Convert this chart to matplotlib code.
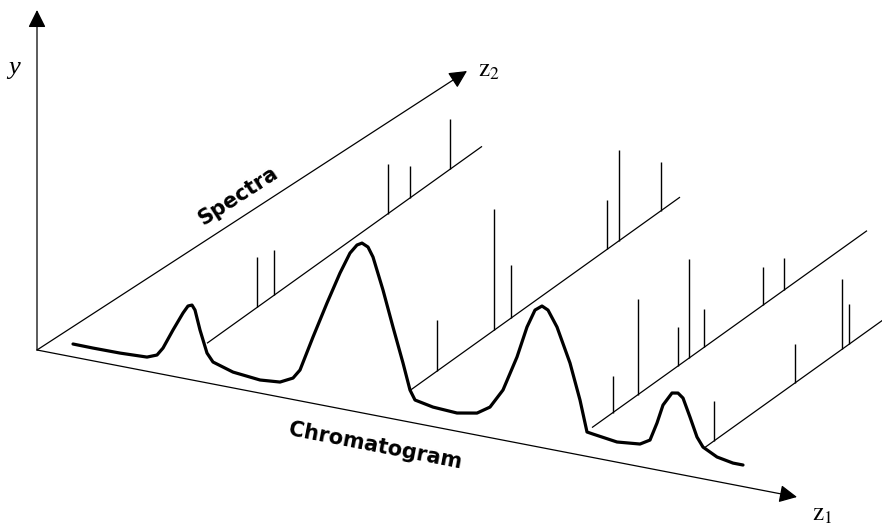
import numpy as np
import matplotlib
matplotlib.use("Agg")
from matplotlib import pyplot as plt

# oblique sketch: z1 runs right and a bit down, z2 runs up-right, y is straight up
ORIGIN = (37, 350)
S1 = 0.193      # screen drop per unit of z1
S2 = 0.716      # screen rise per unit of z2
CHROM_Z2 = 16   # the chromatogram sits a little behind the z1 axis

# chromatogram trace: position along z1 and intensity
chrom_z1 = [20, 40, 67, 94, 104, 110, 120, 130, 135, 139, 142, 147, 154, 160, 180,
            207, 227, 240, 247, 260, 274, 287, 297, 304, 309, 315, 320, 330, 340,
            350, 357, 362, 380, 404, 424, 437, 450, 464, 474, 482, 489, 495, 504,
            517, 527, 534, 540, 564, 587, 597, 604, 610, 619, 625, 630, 637, 644,
            650, 664, 680, 690]
chrom_y = [-1.6, -1.8, -1.6, -0.4, 3.6, 11.7, 31.7, 50.6, 58.6, 60.3, 55.9, 36.9, 15.2,
           7.4, 1.2, -1.5, 0.3, 6.8, 16.2, 51.7, 88.4, 120.9, 142.8, 152.2, 155.1,
           152.3, 143.3, 112.2, 77.1, 43.1, 17.4, 8.4, 4.8, 3.5, 7.3, 15.8, 35.4, 71.1,
           103.0, 121.5, 126.9, 124.0, 108.8, 75.3, 40.2, 9.6, 8.7, 5.4, 7.8, 13.7,
           32.1, 51.2, 65.0, 66.1, 62.1, 44.4, 25.8, 16.9, 9.7, 6.7, 6.7]

# spectra taken at four retention positions
spec_z1 = [154, 357, 539, 652]
spec_lift = [25, 17, 15, 17]
spec_len = [275, 270, 275, 275]
spec_pos = [
    [50, 67, 181, 203, 243],
    [27, 84, 101, 197, 209, 251],
    [21, 46, 86, 97, 112, 171, 192],
    [9, 90, 137, 144],
]
spec_height = [
    [50, 45, 50, 32, 50],
    [51, 121, 53, 49, 91, 49],
    [37, 96, 39, 99, 38, 38, 32],
    [40, 39, 70, 40],
]

# axis arrow ends on the drawing plane
y_tip = (37, 10)
z1_tip = (797, 497)
z2_tip = (467, 71)


def proj(z1, z2, y):
    z1 = np.asarray(z1, float)
    z2 = np.asarray(z2, float)
    y = np.asarray(y, float)
    return ORIGIN[0] + z1 + z2, ORIGIN[1] + S1 * z1 - S2 * z2 - y


plt.rcParams["mathtext.fontset"] = "stix"
fig = plt.figure(figsize=(8.82, 5.25), dpi=100)
ax = fig.add_axes([0, 0, 1, 1])
ax.set_xlim(0, 882)
ax.set_ylim(525, 0)
ax.axis("off")

arrow = dict(arrowstyle="-|>,head_length=0.54,head_width=0.27", mutation_scale=20,
             lw=0.9, color="black", shrinkA=0, shrinkB=0)
for tip in (y_tip, z1_tip, z2_tip):
    ax.annotate("", xy=tip, xytext=ORIGIN, arrowprops=arrow)

# spectra: baseline along z2 plus one stick per line
for u, lift, length, pos, hts in zip(spec_z1, spec_lift, spec_len, spec_pos, spec_height):
    bx, by = proj([u, u], [CHROM_Z2, CHROM_Z2 + length], [lift, lift])
    ax.plot(bx, by, color="black", lw=0.9, solid_capstyle="butt")
    for p, h in zip(pos, hts):
        sx, sy = proj([u, u], [CHROM_Z2 + p] * 2, [lift, lift + h])
        ax.plot(sx, sy, color="black", lw=1.0, solid_capstyle="butt")

cx, cy = proj(chrom_z1, np.full(len(chrom_z1), CHROM_Z2), chrom_y)
ax.plot(cx, cy, color="black", lw=2.3, solid_joinstyle="round",
        solid_capstyle="round", zorder=5)

ax.text(14, 68, "y", fontsize=19, family="Liberation Serif", style="italic",
        ha="center", va="center")
ax.text(478, 70, r"$\mathrm{z}_2$", fontsize=18, ha="left", va="center")
ax.text(812, 514, r"$\mathrm{z}_1$", fontsize=18, ha="left", va="center")

ax.text(238, 196, "Spectra", fontsize=15, fontweight="bold", family="DejaVu Sans",
        rotation=33, rotation_mode="anchor", ha="center", va="center")
ax.text(375, 446, "Chromatogram", fontsize=15, fontweight="bold", family="DejaVu Sans",
        rotation=-11, rotation_mode="anchor", ha="center", va="center")

fig.savefig("out.png", dpi=100)
